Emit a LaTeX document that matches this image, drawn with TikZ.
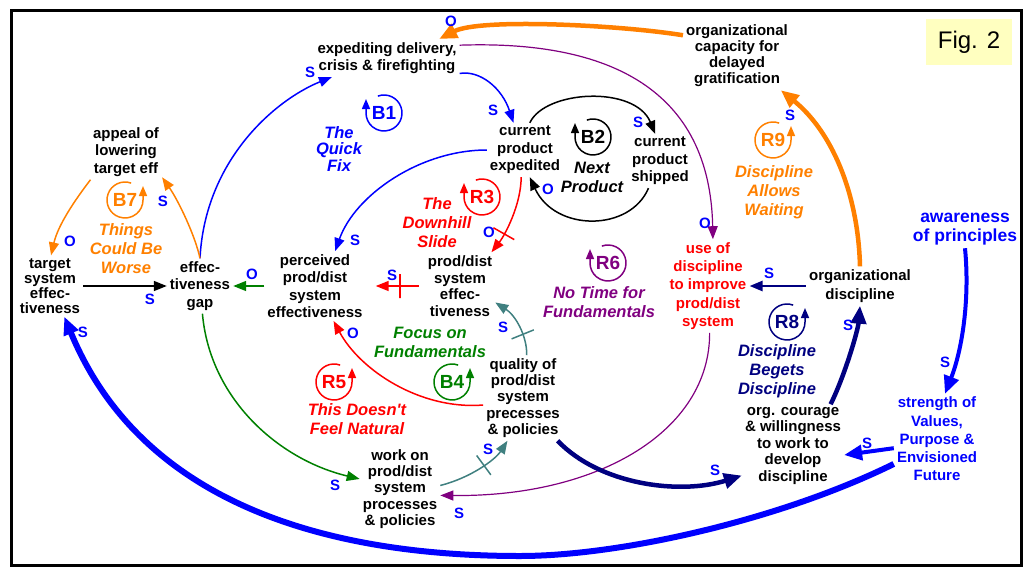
\documentclass[tikz,border=0pt]{standalone}
\usepackage{fontspec}
\setmainfont{Liberation Sans}
\usetikzlibrary{arrows.meta}
\definecolor{cldorange}{RGB}{255,128,0}
\definecolor{cldgreen}{RGB}{0,128,0}
\definecolor{cldpurple}{RGB}{128,0,128}
\definecolor{cldnavy}{RGB}{0,0,128}
\definecolor{cldteal}{RGB}{64,128,128}
\definecolor{figyellow}{RGB}{255,255,192}
\tikzset{
  var/.style={font=\bfseries\fontsize{15}{#1}\selectfont, align=center, inner sep=3pt},
  var/.default=17.5,
  pol/.style={font=\bfseries\fontsize{15}{15}\selectfont, text=blue, inner sep=0pt},
  loopname/.style={font=\bfseries\itshape\fontsize{16.5}{#1}\selectfont, align=center, inner sep=0pt},
  loopname/.default=19,
  arr/.style={-{Triangle[length=13pt,width=10pt]}, line width=1.5pt},
  fat/.style={-{Triangle[length=18pt,width=15pt]}, line width=4.5pt},
  delaymark/.style={sloped, draw, minimum height=24pt, minimum width=0pt, inner sep=0pt},
  pics/loopl/.style={code={
    \node[font=\bfseries\fontsize{19}{19}\selectfont, inner sep=0pt] (-lbl) {#1};
    \draw[line width=1.5pt, -{Triangle[length=10pt,width=8pt]}]
      (110:18pt) arc[start angle=110, end angle=-180, radius=18pt] -- ++(0pt,14pt);
  }},
  pics/loopr/.style={code={
    \node[font=\bfseries\fontsize{19}{19}\selectfont, inner sep=0pt] (-lbl) {#1};
    \draw[line width=1.5pt, -{Triangle[length=10pt,width=8pt]}]
      (70:18pt) arc[start angle=70, end angle=360, radius=18pt] -- ++(0pt,14pt);
  }},
}
\begin{document}
\begin{tikzpicture}[x=1pt,y=-1pt]
  \useasboundingbox (0,0) rectangle (1028,568);
  \draw[line width=3pt] (11,10) rectangle (1021,565);
  \node[fill=figyellow, minimum width=86pt, minimum height=46pt,
    font=\fontsize{24}{24}\selectfont] (fig) at (969,42) {Fig. 2};

  \node[var] (exped) at (387,58) {expediting delivery,\\crisis \& firefighting};
  \node[var] (curexp) at (525,150) {current\\product\\expedited};
  \node[var] (curship) at (660,161) {current\\product\\shipped};
  \node[var=16] (orgcap) at (737,56) {organizational\\capacity for\\delayed\\gratification};
  \node[var] (appeal) at (126,152) {appeal of\\lowering\\target eff};
  \node[var=15] (target) at (50,286) {target\\system\\effec-\\tiveness};
  \node[var] (gap) at (200,286) {effec-\\tiveness\\gap};
  \node[var] (perceived) at (315,286) {perceived\\prod/dist\\system\\effectiveness};
  \node[var=16.7] (psyseff) at (460,286) {prod/dist\\system\\effec-\\tiveness};
  \node[var=16.3] (quality) at (523,398) {quality of\\prod/dist\\system\\precesses\\\& policies};
  \node[var=16.3] (work) at (400,489) {work on\\prod/dist\\system\\processes\\\& policies};
  \node[var=18.3, red] (usedisc) at (708,286) {use of\\discipline\\to improve\\prod/dist\\system};
  \node[var=19] (orgdisc) at (860,286) {organizational\\discipline};
  \node[var=16.5] (courage) at (793,446) {org. courage\\\& willingness\\to work to\\develop\\discipline};
  \node[var=18.2, blue] (strength) at (937,439) {strength of\\Values,\\Purpose \&\\Envisioned\\Future};
  \node[var, blue, font=\bfseries\fontsize{17.5}{19}\selectfont] (awareness) at (965,229) {awareness\\of principles};

  \pic[blue] (b1) at (384,113) {loopl=B1};
  \pic (b2) at (593,137) {loopl=B2};
  \pic[red] (r3) at (482,197) {loopl=R3};
  \pic[cldpurple] (r6) at (608,263) {loopl=R6};
  \pic[cldorange] (r9) at (773,140) {loopr=R9};
  \pic[cldorange] (b7) at (125,200) {loopr=B7};
  \pic[red] (r5) at (334,382) {loopr=R5};
  \pic[cldgreen] (b4) at (452,382) {loopr=B4};
  \pic[cldnavy] (r8) at (787,322) {loopr=R8};

  \node[loopname=16.5, blue] (quickfix) at (339,149) {The\\Quick\\Fix};
  \node[loopname] (nextprod) at (592,177) {Next\\Product};
  \node[loopname, red] (downhill) at (437,223) {The\\Downhill\\Slide};
  \node[loopname, cldpurple] (notime) at (599,302) {No Time for\\Fundamentals};
  \node[loopname, cldorange] (allows) at (774,192) {Discipline\\Allows\\Waiting};
  \node[loopname, cldorange] (worse) at (126,249) {Things\\Could Be\\Worse};
  \node[loopname, red] (natural) at (357,419) {This Doesn\textquotesingle t\\Feel Natural};
  \node[loopname, cldgreen] (focus) at (430,342) {Focus on\\Fundamentals};
  \node[loopname, cldnavy] (begets) at (777,371) {Discipline\\Begets\\Discipline};

  \begin{scope}[arr]
    \draw[blue] (gap.north) .. controls (205,160) and (275,100) .. (exped.199);
    \draw[blue] (exped.-12) .. controls (480,70) and (502,88) .. (curexp.113);
    \draw[blue] (curexp.west) .. controls (420,150) and (355,195) .. (perceived.60);
    \draw (curexp.80) .. controls (545,90) and (635,85) .. (curship.100);
    \draw (curship.-113) .. controls (630,232) and (555,232) .. (curexp.-80);
    \draw[red] (curexp.-98) .. controls (521,205) and (505,235) .. node[delaymark, pos=0.7] (dl1) {} (psyseff.47);
    \draw[red, shorten <=6pt, shorten >=10pt] (psyseff.west) -- node[delaymark, pos=0.42] (dl2) {} (perceived.east);
    \draw[cldgreen] (perceived.west) -- (gap.east);
    \draw (target.east) -- (gap.west);
    \draw[cldorange] (gap.north) .. controls (195,235) and (178,200) .. (appeal.-35);
    \draw[cldorange] (appeal.-142) .. controls (75,200) and (58,225) .. (target.88);
    \draw[cldgreen] (gap.-85) .. controls (210,400) and (280,460) .. (work.166);
    \draw[cldteal] (work.5) .. controls (470,478) and (495,460) .. node[delaymark, pos=0.55] (dl3) {} (quality.-110);
    \draw[cldteal] (quality.85) .. controls (527,335) and (515,315) .. node[delaymark, pos=0.35] (dl4) {} (psyseff.-25);
    \draw[red] (quality.190) .. controls (420,410) and (360,370) .. (perceived.-62);
    \draw[cldpurple, line width=1.2pt] (exped.10) .. controls (610,40) and (710,90) .. (usedisc.84);
    \draw[cldpurple, line width=1.2pt] (usedisc.-88) .. controls (710,430) and (600,497) .. (work.-9);
  \end{scope}

  \begin{scope}[fat]
    \draw[cldorange] (orgcap.159) .. controls (620,25) and (480,18) .. (exped.20);
    \draw[cldorange] (orgdisc.north) .. controls (858,190) and (830,130) .. (orgcap.-38);
    \draw[cldnavy, line width=2.5pt, -{Triangle[length=13pt,width=10pt]}] (orgdisc.west) -- (usedisc.east);
    \draw[cldnavy] (courage.48) .. controls (845,375) and (858,330) .. (orgdisc.-90);
    \draw[cldnavy] (quality.-51) .. controls (600,485) and (680,495) .. (courage.210);
    \draw[blue, line width=4pt] (awareness.south) .. controls (970,300) and (962,350) .. (strength.80);
    \draw[blue, line width=4pt] (strength.-168) -- (courage.-10);
    \draw[blue, line width=6pt] (strength.-150) .. controls (780,520) and (620,556) .. (520,556)
      .. controls (320,556) and (140,500) .. (target.-65);
  \end{scope}

  \foreach \px/\py/\pt [count=\i] in {310/72/S, 493/110/S, 355/240/S, 638/122/S, 548/189/O,
      489/232/O, 392/275/S, 252/274/O, 150/299/S, 163/201/S, 70/241/O, 335/485/S, 488/449/S,
      503/327/S, 353/333/O, 705/223/O, 459/513/S, 451/21/O, 790/115/S, 769/273/S, 848/325/S,
      715/470/S, 945/362/S, 867/443/S, 83/332/S}
    \node[pol] (pol\i) at (\px,\py) {\pt};
\end{tikzpicture}
\end{document}
